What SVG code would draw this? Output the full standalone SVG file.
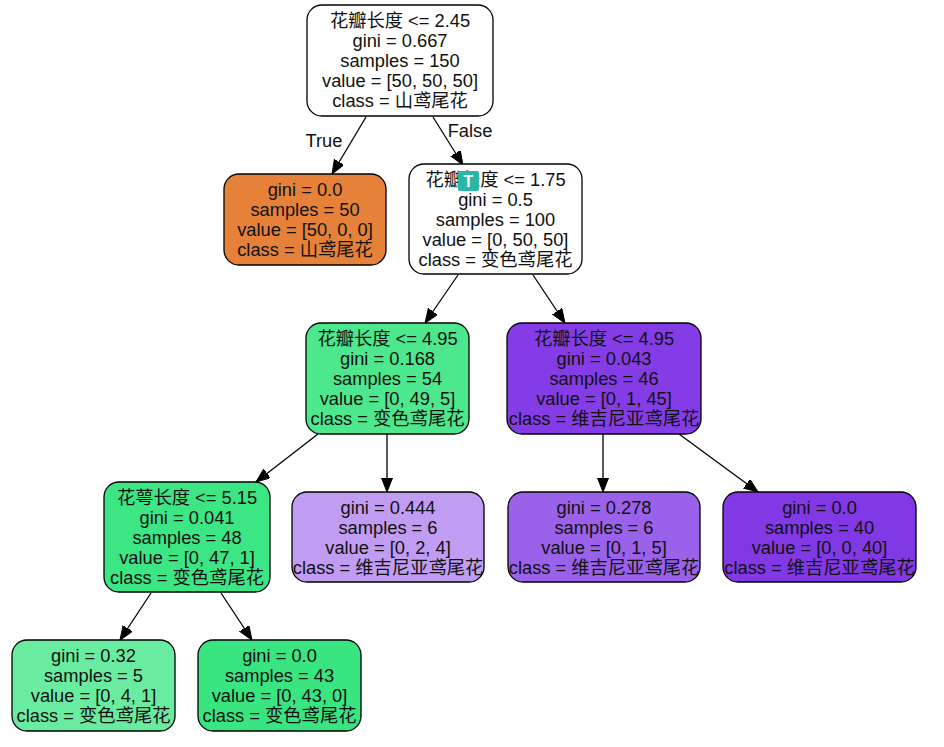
<svg xmlns="http://www.w3.org/2000/svg" width="944" height="747" viewBox="0 0 944 747">
<style>
.n{stroke:#000;stroke-width:1.3}
text{font-family:"Liberation Sans","Noto Sans CJK SC",sans-serif;font-size:18.3px;fill:#111;text-anchor:middle}
.e{stroke:#000;stroke-width:1.3;fill:none;marker-end:url(#ah)}
</style>
<defs>
<marker id="ah" markerUnits="userSpaceOnUse" markerWidth="15" markerHeight="12" refX="14" refY="5.5" orient="auto">
<path d="M0,0 L14,5.5 L0,11 z" fill="#000" stroke="#000" stroke-width="1"/>
</marker>
</defs>
<rect width="944" height="747" fill="#fff"/>
<g id="edges">
<line class="e" x1="366" y1="117" x2="332" y2="174"/>
<line class="e" x1="433" y1="117" x2="463" y2="165"/>
<line class="e" x1="458" y1="275" x2="425" y2="323"/>
<line class="e" x1="533" y1="275" x2="565" y2="323"/>
<line class="e" x1="318" y1="434" x2="256" y2="482"/>
<line class="e" x1="387" y1="434" x2="387" y2="492"/>
<line class="e" x1="603" y1="434" x2="603" y2="492"/>
<line class="e" x1="679" y1="434" x2="758" y2="492"/>
<line class="e" x1="151" y1="593" x2="120" y2="640"/>
<line class="e" x1="221" y1="593" x2="252" y2="640"/>
<text x="324" y="147">True</text>
<text x="470" y="137">False</text>
</g>
<g id="node0">
<rect class="n" x="307" y="5" width="186" height="111" rx="15" fill="#ffffff"/>
<text x="400" y="27">花瓣长度 &lt;= 2.45</text>
<text x="400" y="47">gini = 0.667</text>
<text x="400" y="67">samples = 150</text>
<text x="400" y="87">value = [50, 50, 50]</text>
<text x="400" y="107">class = 山鸢尾花</text>
</g>
<g id="node1">
<rect class="n" x="224" y="174" width="162" height="91" rx="15" fill="#e58139"/>
<text x="305" y="196">gini = 0.0</text>
<text x="305" y="216">samples = 50</text>
<text x="305" y="236">value = [50, 0, 0]</text>
<text x="305" y="256">class = 山鸢尾花</text>
</g>
<g id="node2">
<rect class="n" x="409" y="164" width="173" height="110" rx="15" fill="#ffffff"/>
<text x="495.5" y="186">花瓣长度 &lt;= 1.75</text>
<text x="495.5" y="206">gini = 0.5</text>
<text x="495.5" y="226">samples = 100</text>
<text x="495.5" y="246">value = [0, 50, 50]</text>
<text x="495.5" y="266">class = 变色鸢尾花</text>
</g>
<g id="node3">
<rect class="n" x="306" y="323" width="163" height="111" rx="15" fill="#4de88e"/>
<text x="387.5" y="345">花瓣长度 &lt;= 4.95</text>
<text x="387.5" y="365">gini = 0.168</text>
<text x="387.5" y="385">samples = 54</text>
<text x="387.5" y="405">value = [0, 49, 5]</text>
<text x="387.5" y="425">class = 变色鸢尾花</text>
</g>
<g id="node4">
<rect class="n" x="507" y="323" width="194" height="111" rx="15" fill="#843de6"/>
<text x="604" y="345">花瓣长度 &lt;= 4.95</text>
<text x="604" y="365">gini = 0.043</text>
<text x="604" y="385">samples = 46</text>
<text x="604" y="405">value = [0, 1, 45]</text>
<text x="604" y="425">class = 维吉尼亚鸢尾花</text>
</g>
<g id="node5">
<rect class="n" x="104" y="482" width="166" height="110" rx="15" fill="#3de684"/>
<text x="187" y="504">花萼长度 &lt;= 5.15</text>
<text x="187" y="524">gini = 0.041</text>
<text x="187" y="544">samples = 48</text>
<text x="187" y="564">value = [0, 47, 1]</text>
<text x="187" y="584">class = 变色鸢尾花</text>
</g>
<g id="node6">
<rect class="n" x="292" y="492" width="192" height="90" rx="15" fill="#c09cf2"/>
<text x="388" y="514">gini = 0.444</text>
<text x="388" y="534">samples = 6</text>
<text x="388" y="554">value = [0, 2, 4]</text>
<text x="388" y="574">class = 维吉尼亚鸢尾花</text>
</g>
<g id="node7">
<rect class="n" x="508" y="492" width="192" height="90" rx="15" fill="#9a61ea"/>
<text x="604" y="514">gini = 0.278</text>
<text x="604" y="534">samples = 6</text>
<text x="604" y="554">value = [0, 1, 5]</text>
<text x="604" y="574">class = 维吉尼亚鸢尾花</text>
</g>
<g id="node8">
<rect class="n" x="723" y="492" width="193" height="90" rx="15" fill="#8139e5"/>
<text x="819.5" y="514">gini = 0.0</text>
<text x="819.5" y="534">samples = 40</text>
<text x="819.5" y="554">value = [0, 0, 40]</text>
<text x="819.5" y="574">class = 维吉尼亚鸢尾花</text>
</g>
<g id="node9">
<rect class="n" x="12" y="640" width="163" height="91" rx="15" fill="#6aeca0"/>
<text x="93.5" y="662">gini = 0.32</text>
<text x="93.5" y="682">samples = 5</text>
<text x="93.5" y="702">value = [0, 4, 1]</text>
<text x="93.5" y="722">class = 变色鸢尾花</text>
</g>
<g id="node10">
<rect class="n" x="198" y="640" width="163" height="91" rx="15" fill="#39e581"/>
<text x="279.5" y="662">gini = 0.0</text>
<text x="279.5" y="682">samples = 43</text>
<text x="279.5" y="702">value = [0, 43, 0]</text>
<text x="279.5" y="722">class = 变色鸢尾花</text>
</g>
<g id="badge">
<rect x="458" y="171" width="21" height="20" rx="2" fill="#2bb5a8"/>
<text x="468.5" y="187" style="font-size:16px;font-weight:bold;fill:#fff">T</text>
</g>
</svg>
